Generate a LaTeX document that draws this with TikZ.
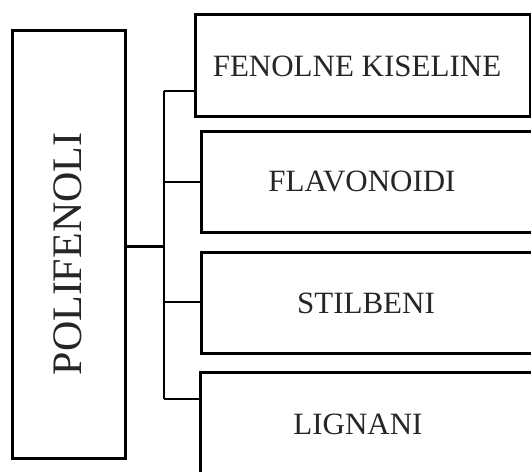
\documentclass[tikz,border=0pt]{standalone}
\usepackage{fontspec}
\setmainfont{Liberation Serif}
\begin{document}
\begin{tikzpicture}[x=1pt,y=-1pt,
  boxst/.style={draw=black,line width=3pt,rectangle,inner sep=0pt,outer sep=0pt,anchor=north west},
  lbl/.style={inner sep=0pt,font=\fontsize{31}{36}\selectfont,text=black!85},
  conn/.style={draw=black,line width=2pt},
  mainconn/.style={draw=black,line width=3pt}]
\useasboundingbox (0,0) rectangle (531,472);
\clip (0,0) rectangle (531,472);
% left box
\node[boxst,minimum width=113pt,minimum height=428pt] (L) at (12,30) {};
\node[inner sep=0pt,rotate=90,font=\fontsize{42}{50}\selectfont,text=black!85] (Lt) at (68,254) {POLIFENOLI};
% right boxes
\node[boxst,minimum width=335pt,minimum height=102pt] (B1) at (195,14) {};
\node[boxst,minimum width=340pt,minimum height=101pt] (B2) at (201,131) {};
\node[boxst,minimum width=340pt,minimum height=101pt] (B3) at (201,252) {};
\node[boxst,minimum width=340pt,minimum height=110pt] (B4) at (200,372) {};
\node[lbl] (T1) at (357,66) {FENOLNE KISELINE};
\node[lbl] (T2) at (362,181) {FLAVONOIDI};
\node[lbl] (T3) at (366,303) {STILBENI};
\node[lbl] (T4) at (358,424) {LIGNANI};
% connectors
\coordinate (J) at (164,246);
\coordinate (t1) at (164,91);
\coordinate (t2) at (164,182);
\coordinate (t3) at (164,302);
\coordinate (t4) at (164,399);
\draw[mainconn] (L.east |- J) -- (J);
\draw[conn] (t1) -- (t4);
\draw[conn] (t1) -- (B1.west |- t1);
\draw[conn] (t2) -- (B2.west |- t2);
\draw[conn] (t3) -- (B3.west |- t3);
\draw[conn] (t4) -- (B4.west |- t4);
\end{tikzpicture}
\end{document}
